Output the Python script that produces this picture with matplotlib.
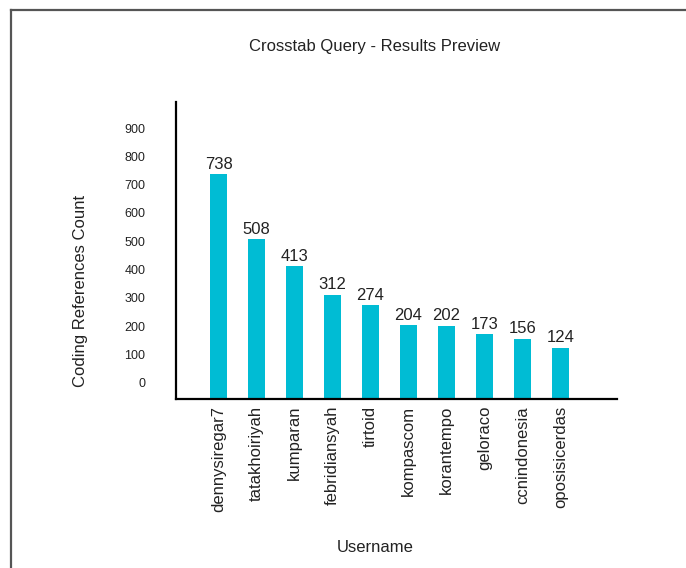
import numpy as np
import matplotlib
matplotlib.use('Agg')
import matplotlib.pyplot as plt
from matplotlib.lines import Line2D

plt.rcParams['font.family'] = ['Liberation Sans', 'DejaVu Sans']

users = ['dennysiregar7', 'tatakhoiriyah', 'kumparan', 'febridiansyah', 'tirtoid',
         'kompascom', 'korantempo', 'geloraco', 'ccnindonesia', 'oposisicerdas']
counts = [738, 508, 413, 312, 274, 204, 202, 173, 156, 124]
yticks = [0, 100, 200, 300, 400, 500, 600, 700, 800, 900]

fig = plt.figure(figsize=(6.86, 5.68), dpi=100)
ax = fig.add_axes([0.2566, 0.2975, 0.6429, 0.5235])

# frame around the chart panel
fig.add_artist(Line2D([11/686, 11/686], [0, 1 - 10/568], color='#555555', lw=1.6))
fig.add_artist(Line2D([11/686, 1], [1 - 10/568, 1 - 10/568], color='#555555', lw=1.6))

ymin = -57
x = np.arange(len(users))
vals = np.array(counts)
bars = ax.bar(x, vals - ymin, bottom=ymin, width=0.45, color='#00BCD4')

for xi, v in zip(x, counts):
    ax.text(xi, v + 8, str(v), ha='center', va='bottom', fontsize=12, color='#222222')

ax.set_xlim(-1.118, 10.487)
ax.set_ylim(ymin, 993)

ax.set_xticks(x)
ax.set_xticklabels(users, rotation=90, fontsize=12, color='#222222')
ax.set_yticks(yticks)
ax.set_yticklabels([str(t) for t in yticks], fontsize=9, color='#222222')
ax.tick_params(axis='y', length=0, pad=22)
ax.tick_params(axis='x', length=0, pad=5)

for s in ['top', 'right']:
    ax.spines[s].set_visible(False)
for s in ['left', 'bottom']:
    ax.spines[s].set_linewidth(1.6)
    ax.spines[s].set_color('black')

fig.text(375/686, 1 - 46/568, 'Crosstab Query - Results Preview', ha='center', va='center',
         fontsize=12, color='#222222')
fig.text(80/686, 1 - 291/568, 'Coding References Count', ha='center', va='center',
         rotation=90, fontsize=12, color='#222222')
fig.text(375/686, 1 - 547/568, 'Username', ha='center', va='center',
         fontsize=12, color='#222222')

plt.savefig('out.png', dpi=100)
